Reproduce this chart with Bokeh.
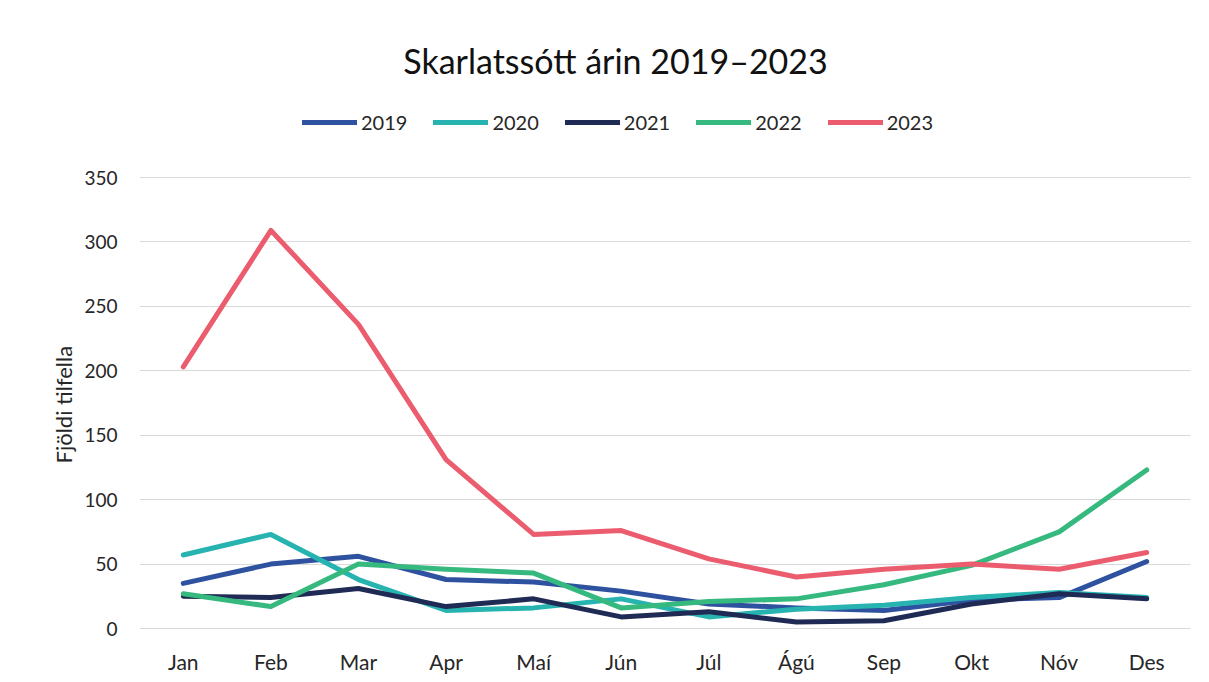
from bokeh.plotting import figure
from bokeh.models import Range1d, FactorRange, Label, Legend, LegendItem, Title
from bokeh.embed import file_html
from bokeh.resources import INLINE

months = ["Jan", "Feb", "Mar", "Apr", "Maí", "Jún", "Júl", "Ágú", "Sep", "Okt", "Nóv", "Des"]
y2019 = [35, 50, 56, 38, 36, 29, 19, 16, 14, 22, 24, 52]
y2020 = [57, 73, 38, 14, 16, 23, 9, 15, 18, 24, 28, 24]
y2021 = [25, 24, 31, 17, 23, 9, 13, 5, 6, 19, 27, 23]
y2022 = [27, 17, 50, 46, 43, 16, 21, 23, 34, 49, 75, 123]
y2023 = [203, 309, 236, 131, 73, 76, 54, 40, 46, 50, 46, 59]
series_names = ["2019", "2020", "2021", "2022", "2023"]
series_values = [y2019, y2020, y2021, y2022, y2023]
colors = ["#2E52A0", "#27B3AF", "#1F2A55", "#35B97E", "#EB5D6E"]
y_ticks = [0, 50, 100, 150, 200, 250, 300, 350]

FONT = "Lato"
TXT = "#262626"

# layout (pixels)
W, H = 1207, 680
F_LEFT, F_RIGHT, F_TOP, F_BOTTOM = 139, 1190, 30, 630
PX_0, PX_350 = 628, 177
s = (PX_0 - PX_350) / 350.0
y_min = -(F_BOTTOM - PX_0) / s
y_max = 350 + (PX_350 - F_TOP) / s

p = figure(width=W, height=H, x_range=FactorRange(*months, range_padding=0),
           y_range=Range1d(y_min, y_max), output_backend="svg", toolbar_location=None,
           min_border_left=F_LEFT, min_border_right=W - F_RIGHT,
           min_border_top=F_TOP, min_border_bottom=H - F_BOTTOM)
p.outline_line_color = None
p.background_fill_color = "white"
p.border_fill_color = "white"

p.xgrid.grid_line_color = None
p.ygrid.grid_line_color = "#d9d9d9"
p.ygrid.grid_line_width = 1

for ax in (p.xaxis[0], p.yaxis[0]):
    ax.axis_line_color = None
    ax.major_tick_line_color = None
    ax.minor_tick_line_color = None
    ax.major_tick_out = 0
    ax.major_tick_in = 0
    ax.minor_tick_out = 0
    ax.minor_tick_in = 0
    ax.major_label_text_font = FONT
    ax.major_label_text_color = TXT

p.yaxis.ticker = y_ticks
p.yaxis.major_label_text_font_size = "19px"
p.xaxis.major_label_text_font_size = "21px"
p.yaxis.major_label_standoff = 22
p.xaxis.major_label_standoff = 18

# y-axis title, placed in the left side panel so it can sit beside the 0-350 gridlines
ytitle = Title(text="Fjöldi tilfella", align="left", offset=F_BOTTOM - 463,
               text_font=FONT, text_font_size="22px", text_font_style="normal",
               text_color=TXT, standoff=10)
p.add_layout(ytitle, "left")

items = []
for name, vals, col in zip(series_names, series_values, colors):
    r = p.line(months, vals, line_color=col, line_width=5, line_cap="round", line_join="round")
    items.append(LegendItem(label=name, renderers=[r]))

legend = Legend(items=items, orientation="horizontal", location=(302 - F_LEFT, F_BOTTOM - 124 - 10),
                glyph_width=55, glyph_height=20, label_standoff=4, spacing=26,
                padding=0, margin=0, border_line_color=None, background_fill_alpha=0,
                label_text_font=FONT, label_text_font_size="20px", label_text_color=TXT)
p.add_layout(legend, "center")

title = Label(x=615 - F_LEFT, y=F_BOTTOM - 60, x_units="screen", y_units="screen",
              text="Skarlatssótt árin 2019–2023",
              text_align="center", text_baseline="middle", text_font=FONT,
              text_font_size="34px", text_color="#111111")
p.add_layout(title)

open("out.html", "w").write(file_html(p, INLINE))
